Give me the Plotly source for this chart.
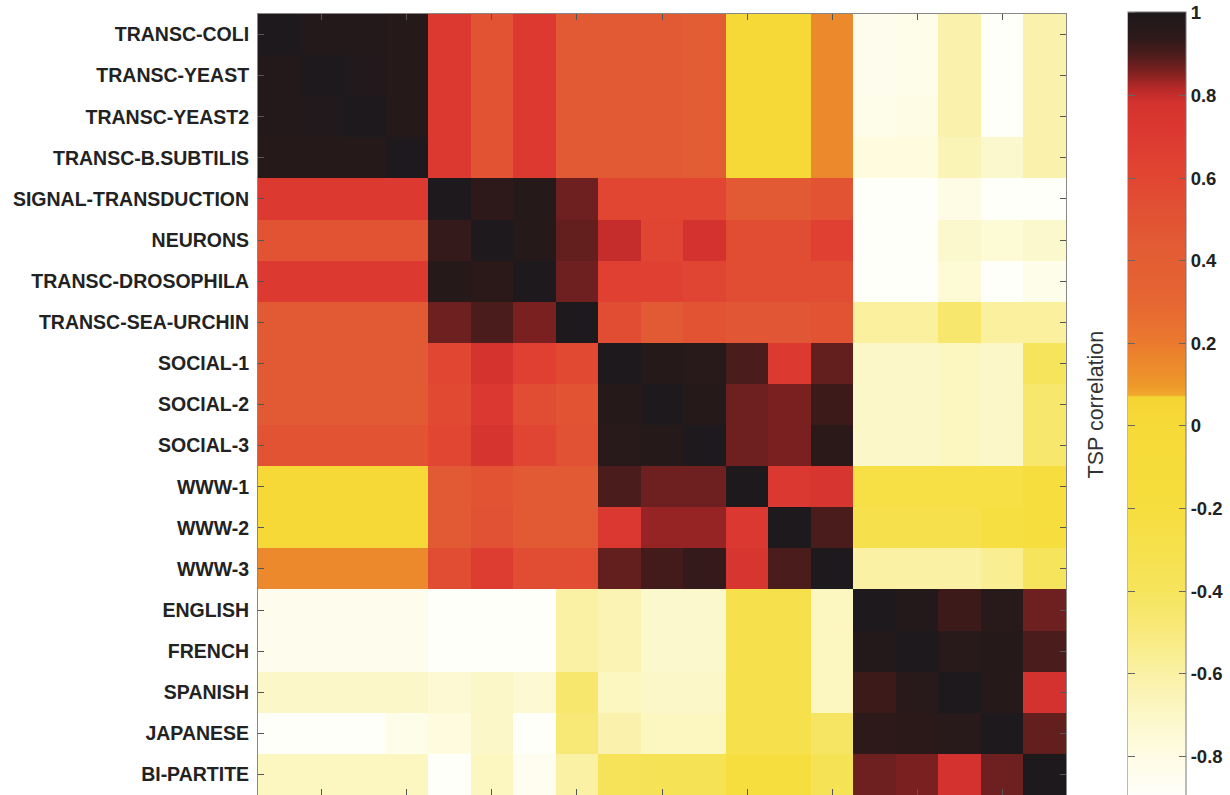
import plotly.graph_objects as go

labels = ["TRANSC-COLI", "TRANSC-YEAST", "TRANSC-YEAST2", "TRANSC-B.SUBTILIS",
          "SIGNAL-TRANSDUCTION", "NEURONS", "TRANSC-DROSOPHILA", "TRANSC-SEA-URCHIN",
          "SOCIAL-1", "SOCIAL-2", "SOCIAL-3", "WWW-1", "WWW-2", "WWW-3",
          "ENGLISH", "FRENCH", "SPANISH", "JAPANESE", "BI-PARTITE"]

col_index = list(range(19))

tsp = [
    [1.00, 0.98, 0.98, 0.97, 0.70, 0.50, 0.70, 0.45, 0.45, 0.45, 0.43, 0.02, 0.02, 0.15, -0.84, -0.82, -0.62, -0.90, -0.62],
    [0.98, 1.00, 0.99, 0.97, 0.70, 0.50, 0.70, 0.45, 0.45, 0.45, 0.43, 0.02, 0.02, 0.15, -0.84, -0.82, -0.62, -0.90, -0.62],
    [0.98, 0.99, 1.00, 0.97, 0.70, 0.50, 0.70, 0.45, 0.45, 0.45, 0.43, 0.02, 0.02, 0.15, -0.82, -0.80, -0.62, -0.90, -0.62],
    [0.97, 0.97, 0.97, 1.00, 0.70, 0.50, 0.70, 0.45, 0.45, 0.45, 0.43, 0.02, 0.02, 0.15, -0.78, -0.78, -0.65, -0.72, -0.62],
    [0.70, 0.70, 0.70, 0.70, 1.00, 0.94, 0.97, 0.87, 0.60, 0.60, 0.60, 0.45, 0.45, 0.50, -0.90, -0.90, -0.80, -0.90, -0.90],
    [0.50, 0.50, 0.50, 0.50, 0.93, 1.00, 0.97, 0.88, 0.80, 0.62, 0.78, 0.55, 0.55, 0.65, -0.90, -0.90, -0.72, -0.75, -0.72],
    [0.70, 0.70, 0.70, 0.70, 0.97, 0.95, 1.00, 0.87, 0.65, 0.65, 0.62, 0.55, 0.55, 0.55, -0.90, -0.90, -0.75, -0.90, -0.82],
    [0.45, 0.45, 0.45, 0.45, 0.87, 0.90, 0.86, 1.00, 0.55, 0.45, 0.50, 0.48, 0.48, 0.50, -0.58, -0.58, -0.45, -0.58, -0.58],
    [0.45, 0.45, 0.45, 0.45, 0.60, 0.77, 0.65, 0.58, 1.00, 0.97, 0.96, 0.90, 0.70, 0.88, -0.70, -0.70, -0.68, -0.70, -0.40],
    [0.45, 0.45, 0.45, 0.45, 0.58, 0.72, 0.55, 0.50, 0.97, 1.00, 0.97, 0.87, 0.86, 0.92, -0.70, -0.70, -0.68, -0.70, -0.45],
    [0.50, 0.50, 0.50, 0.50, 0.60, 0.76, 0.62, 0.52, 0.96, 0.97, 1.00, 0.87, 0.86, 0.95, -0.70, -0.70, -0.68, -0.70, -0.45],
    [0.02, 0.02, 0.02, 0.02, 0.45, 0.50, 0.45, 0.45, 0.90, 0.87, 0.87, 1.00, 0.72, 0.75, -0.25, -0.25, -0.25, -0.25, -0.20],
    [0.02, 0.02, 0.02, 0.02, 0.45, 0.52, 0.45, 0.45, 0.72, 0.84, 0.84, 0.72, 1.00, 0.90, -0.30, -0.30, -0.30, -0.22, -0.20],
    [0.15, 0.15, 0.15, 0.15, 0.55, 0.68, 0.55, 0.55, 0.88, 0.91, 0.93, 0.75, 0.90, 1.00, -0.60, -0.60, -0.60, -0.55, -0.40],
    [-0.84, -0.84, -0.84, -0.84, -0.90, -0.90, -0.90, -0.60, -0.64, -0.72, -0.72, -0.30, -0.30, -0.68, 1.00, 0.98, 0.92, 0.96, 0.87],
    [-0.84, -0.84, -0.84, -0.84, -0.90, -0.90, -0.90, -0.60, -0.64, -0.72, -0.72, -0.30, -0.30, -0.68, 0.98, 1.00, 0.96, 0.97, 0.90],
    [-0.70, -0.70, -0.70, -0.70, -0.74, -0.70, -0.74, -0.45, -0.68, -0.70, -0.70, -0.30, -0.30, -0.68, 0.92, 0.96, 1.00, 0.97, 0.78],
    [-0.90, -0.90, -0.90, -0.82, -0.78, -0.70, -0.90, -0.48, -0.62, -0.68, -0.68, -0.30, -0.30, -0.42, 0.94, 0.95, 0.96, 1.00, 0.88],
    [-0.68, -0.68, -0.68, -0.68, -0.90, -0.68, -0.85, -0.60, -0.38, -0.35, -0.35, -0.20, -0.20, -0.35, 0.87, 0.86, 0.78, 0.87, 1.00],
]

cbar_ticks = [-0.8, -0.6, -0.4, -0.2, 0, 0.2, 0.4, 0.6, 0.8, 1]
cbar_text = ["-0.8", "-0.6", "-0.4", "-0.2", "0", "0.2", "0.4", "0.6", "0.8", "1"]

ZMIN, ZMAX = -0.92, 1.002
stops = [
    (-0.92, "rgb(255,255,255)"),
    (-0.80, "rgb(254,252,228)"),
    (-0.70, "rgb(252,247,200)"),
    (-0.60, "rgb(250,241,165)"),
    (-0.50, "rgb(248,234,125)"),
    (-0.40, "rgb(246,228,92)"),
    (-0.20, "rgb(246,222,62)"),
    (0.00, "rgb(246,218,55)"),
    (0.07, "rgb(245,212,52)"),
    (0.075, "rgb(240,168,44)"),
    (0.10, "rgb(238,152,42)"),
    (0.20, "rgb(234,122,46)"),
    (0.30, "rgb(230,102,50)"),
    (0.45, "rgb(225,90,52)"),
    (0.60, "rgb(225,70,50)"),
    (0.70, "rgb(220,58,48)"),
    (0.78, "rgb(212,50,46)"),
    (0.82, "rgb(180,40,40)"),
    (0.86, "rgb(122,32,32)"),
    (0.90, "rgb(75,28,28)"),
    (0.94, "rgb(45,25,25)"),
    (1.002, "rgb(30,25,28)"),
]
colorscale = [[(v - ZMIN) / (ZMAX - ZMIN), c] for v, c in stops]

W, H = 1230, 795
ML, MR, MT, MB = 258, 164, 14, 0
PW = W - ML - MR
PH = H - MT - MB

CB_X = (1128 - ML) / PW
CB_Y = 1 + 2 / PH
CB_LEN = 794 / PH

cb_common = dict(
    x=CB_X, xanchor="left", xpad=0,
    y=CB_Y, yanchor="top", ypad=0,
    len=CB_LEN, lenmode="fraction",
    tickvals=cbar_ticks,
)

fig = go.Figure()
fig.add_trace(go.Heatmap(
    z=tsp, x=col_index, y=labels,
    zmin=ZMIN, zmax=ZMAX, colorscale=colorscale,
    colorbar=dict(
        **cb_common, thickness=58,
        outlinewidth=1, outlinecolor="#777",
        ticktext=cbar_text, ticklabeloverflow="allow",
        ticks="inside", ticklen=7, tickcolor="#666",
        tickfont=dict(family="Liberation Sans, Arial", size=18.5, color="#222", weight="bold"),
    ),
))
# second, invisible colorbar that only draws the left-edge tick marks of the bar
fig.add_trace(go.Heatmap(
    z=tsp, x=col_index, y=labels,
    zmin=ZMIN, zmax=ZMAX, colorscale=colorscale,
    opacity=0, hoverinfo="skip",
    colorbar=dict(
        **cb_common, thickness=0.1, outlinewidth=0,
        ticks="outside", ticklen=7, tickcolor="#666",
        showticklabels=False,
    ),
))

fig.update_layout(
    width=W, height=H,
    margin=dict(l=ML, r=MR, t=MT, b=MB, autoexpand=False),
    paper_bgcolor="white", plot_bgcolor="white",
    font=dict(family="Liberation Sans, Arial", color="#222"),
    annotations=[dict(
        text="TSP correlation", textangle=-90, showarrow=False,
        xref="paper", yref="paper", x=(1095 - ML) / PW, y=0.50,
        xanchor="center", yanchor="middle",
        font=dict(family="Liberation Sans, Arial", size=21.5, color="#333"),
    )],
)
fig.update_yaxes(
    autorange="reversed", ticks="inside", ticklen=6, tickcolor="#555",
    showline=True, linecolor="#888", linewidth=1, mirror="ticks",
    tickfont=dict(family="Liberation Sans, Arial", size=19.5, color="#222", weight="bold"),
    ticklabelstandoff=4,
)
fig.update_xaxes(
    range=[-0.5, 18.5], tickvals=[1, 3, 5, 7, 9, 11, 13, 15, 17],
    ticks="inside", ticklen=6, tickcolor="#555", showticklabels=False,
    showline=True, linecolor="#888", linewidth=1, mirror="ticks",
)

# remove the browser's default 8px page margin so the 1230x795 figure fills the window
fig.write_html("out.html", config={"displayModeBar": False},
               post_script="document.body.style.margin='0px';")
